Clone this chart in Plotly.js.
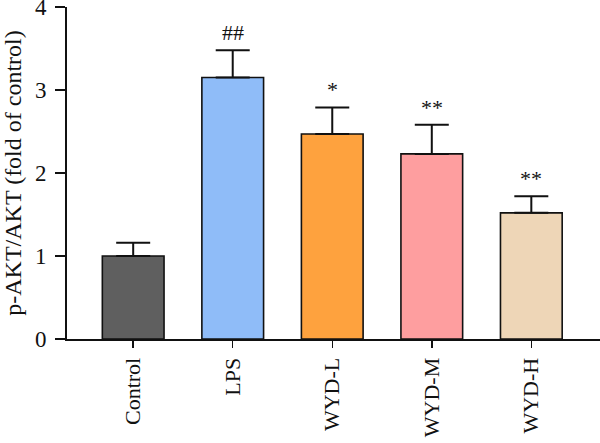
<!DOCTYPE html>
<html>
<head>
<meta charset="utf-8">
<script src="https://cdn.plot.ly/plotly-3.0.1.min.js"></script>
<style>
  html, body { margin: 0; padding: 0; background: #fff; }
  #chart { width: 600px; height: 443px; }
</style>
</head>
<body>
<div id="chart"></div>
<script>
// Group names along the x axis
const groups = ['Control', 'LPS', 'WYD-L', 'WYD-M', 'WYD-H'];
// Mean p-AKT/AKT ratio, relative to control
const means = [1.00, 3.15, 2.47, 2.23, 1.52];
// Upper error (SD)
const errors = [0.16, 0.33, 0.32, 0.35, 0.20];
// Significance marks above each bar
const marks = ['', '##', '*', '**', '**'];
// Bar fill colours
const fills = ['#5f5f5f', '#8fbcf8', '#fea23e', '#fe9e9f', '#eed6b7'];

const serif = 'Liberation Serif, DejaVu Serif, serif';

const trace = {
  type: 'bar',
  x: groups,
  y: means,
  width: 0.62,
  marker: { color: fills, line: { color: '#111', width: 1.6 } },
  error_y: {
    type: 'data',
    symmetric: false,
    array: errors,
    arrayminus: errors.map(() => 0),
    color: '#111',
    thickness: 2,
    width: 17
  },
  hoverinfo: 'none'
};

const annotations = groups.map((g, i) => ({
  x: g,
  y: means[i] + errors[i],
  text: marks[i],
  showarrow: false,
  xanchor: 'center',
  yanchor: 'bottom',
  yshift: 3,
  font: { family: serif, size: 22, color: '#111' }
})).filter(a => a.text);

const layout = {
  width: 600,
  height: 443,
  margin: { l: 67, r: 0, t: 7, b: 104 },
  paper_bgcolor: '#fff',
  plot_bgcolor: '#fff',
  showlegend: false,
  xaxis: {
    type: 'category',
    range: [-0.665, 4.69],
    showline: true,
    linecolor: '#111',
    linewidth: 2,
    ticks: 'outside',
    ticklen: 7,
    tickwidth: 1.5,
    tickcolor: '#111',
    tickangle: -90,
    ticklabelstandoff: 1,
    tickfont: { family: serif, size: 22, color: '#111' },
    showgrid: false,
    zeroline: false
  },
  yaxis: {
    range: [0, 4],
    tickvals: [0, 1, 2, 3, 4],
    showline: true,
    linecolor: '#111',
    linewidth: 2,
    ticks: 'outside',
    ticklen: 10,
    tickwidth: 2,
    tickcolor: '#111',
    ticklabeloverflow: 'allow',
    ticklabelstandoff: 4,
    tickfont: { family: serif, size: 23, color: '#111' },
    showgrid: false,
    zeroline: false,
    title: {
      text: 'p-AKT/AKT (fold of control)',
      font: { family: serif, size: 24, color: '#111' },
      standoff: 14
    }
  },
  annotations: annotations
};

Plotly.newPlot('chart', [trace], layout, { displayModeBar: false, staticPlot: true });
</script>
</body>
</html>
